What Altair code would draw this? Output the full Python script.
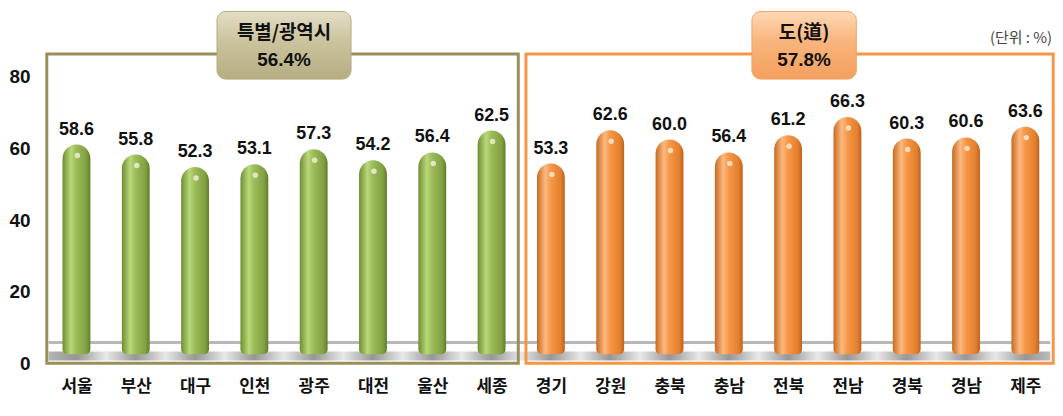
import altair as alt
import pandas as pd

# ---------------- data ----------------
regions = ["서울", "부산", "대구", "인천", "광주", "대전", "울산", "세종",
           "경기", "강원", "충북", "충남", "전북", "전남", "경북", "경남", "제주"]
values = [58.6, 55.8, 52.3, 53.1, 57.3, 54.2, 56.4, 62.5,
          53.3, 62.6, 60.0, 56.4, 61.2, 66.3, 60.3, 60.6, 63.6]
groups = ["특별/광역시"] * 8 + ["도(道)"] * 9
group_names = ["특별/광역시", "도(道)"]
group_rates = ["56.4%", "57.8%"]
y_ticks = [0, 20, 40, 60, 80]
unit_label = "(단위 : %)"

# ---------------- layout / style ----------------
W, H = 1016, 356
XS = alt.Scale(domain=[-0.55, 16.5], nice=False, zero=False, padding=0)
YS = alt.Scale(domain=[0, 99], nice=False)
KFONT = "Noto Sans CJK KR"
NFONT = "Liberation Sans"
OLIVE = "#9a8f5a"
ORANGE = "#f79646"
DEPTH = 2.5  # 3-D depth lift of the cylinders (in axis units)

n = len(regions)
df = pd.DataFrame({"idx": list(range(n)), "region": regions,
                   "value": values, "group": groups})
df["label"] = df["value"].map(lambda v: f"{v:.1f}")

first = [0, 8]
last = [7, 16]
boxes = pd.DataFrame({
    "group": group_names,
    "x0": [first[0] - 0.5, first[1] - 0.42],
    "x1": [last[0] + 0.45, last[1] + 0.47],
    "y0": [0, 0],
    "y1": [86.4, 86.4],
})
tags = pd.DataFrame({
    "group": group_names,
    "rate": group_rates,
    "xc": [3.5, 12.27],
    "hw": [1.13, 0.88],
})
tags["x0"] = tags["xc"] - tags["hw"]
tags["x1"] = tags["xc"] + tags["hw"]
tags["y0"] = 79.4
tags["y1"] = 98.3
tags["yn"] = 92.4
tags["yr"] = 84.6

floor_x0, floor_x1 = -0.47, 16.42
floor_df = pd.DataFrame({"x0": [floor_x0], "x1": [floor_x1], "y0": [0.8], "y1": [3.3], "yb": [5.8]})
unit_df = pd.DataFrame({"t": [unit_label], "x": [16.45], "y": [90.8]})

x_label_expr = "[" + ",".join(f"'{r}'" for r in regions) + "][datum.value]"


def lg(stops, x2=1, y2=0):
    return alt.LinearGradient(
        gradient="linear",
        stops=[alt.GradientStop(color=c, offset=o) for o, c in stops],
        x1=0, x2=x2, y1=0, y2=y2)


# floor gradient: dark under bars, light between
fstops = []
span = floor_x1 - floor_x0
fstops.append((0.0, "#b4b4b4"))
for i in range(n):
    o = (i - floor_x0) / span
    fstops.append((o, "#969696"))
    o2 = (i + 0.5 - floor_x0) / span
    if o2 < 1:
        fstops.append((o2, "#e8e8e8"))
fstops.append((1.0, "#bcbcbc"))

green_grad = lg([(0, "#6f8d33"), (0.3, "#b9d878"), (0.5, "#9bbb59"), (0.85, "#81a142"), (1, "#617d27")])
orange_grad = lg([(0, "#c86a22"), (0.3, "#fcb97f"), (0.5, "#f79646"), (0.85, "#e2802f"), (1, "#bf621b")])
tan_grad = lg([(0, "#e3dec6"), (0.45, "#cbc39d"), (1, "#b6ad82")], x2=0, y2=1)
peach_grad = lg([(0, "#fed8b5"), (0.45, "#f9b47c"), (1, "#f4a05e")], x2=0, y2=1)

xaxis = alt.Axis(values=list(range(n)), labelExpr=x_label_expr, labelFont=KFONT,
                 labelFontSize=17, labelFontWeight="bold", labelColor="#111",
                 ticks=False, domain=False, grid=False, labelPadding=15, title=None)
yaxis = alt.Axis(values=y_ticks, labelFont=NFONT, labelFontSize=19, labelFontWeight="bold",
                 labelColor="#111", ticks=False, domain=False, grid=False, labelPadding=14, title=None)


def X(f):
    return alt.X(f, scale=XS, axis=xaxis, title=None)


def Y(f):
    return alt.Y(f, scale=YS, axis=yaxis, title=None)


# ---------------- layers ----------------
back_line = alt.Chart(floor_df).mark_rule(color="#b8b8b8", strokeWidth=3).encode(
    x=X("x0:Q"), x2="x1:Q", y=Y("yb:Q"))

floor = alt.Chart(floor_df).mark_rect(fill=lg(fstops)).encode(
    x=X("x0:Q"), x2="x1:Q", y=Y("y0:Q"), y2="y1:Q")

outline = alt.Chart(boxes).mark_rect(filled=False, strokeWidth=3).encode(
    x=X("x0:Q"), x2="x1:Q", y=Y("y0:Q"), y2="y1:Q",
    stroke=alt.Stroke("group:N", scale=alt.Scale(domain=group_names, range=[OLIVE, ORANGE]), legend=None))

bar_common = dict(size=28, cornerRadiusTopLeft=14, cornerRadiusTopRight=14,
                  cornerRadiusBottomLeft=5, cornerRadiusBottomRight=5)

bars_base = alt.Chart(df).transform_calculate(
    top=f"datum.value + {DEPTH}", base=f"{DEPTH}")

bars_g = bars_base.transform_filter(alt.datum.group == group_names[0]).mark_bar(
    color=green_grad, **bar_common).encode(x=X("idx:Q"), y=Y("top:Q"), y2="base:Q")

bars_o = bars_base.transform_filter(alt.datum.group == group_names[1]).mark_bar(
    color=orange_grad, **bar_common).encode(x=X("idx:Q"), y=Y("top:Q"), y2="base:Q")

shine = alt.Chart(df).mark_point(filled=True, size=30, color="#fffbe8", opacity=0.7,
                                 yOffset=2, xOffset=1).encode(x=X("idx:Q"), y=Y("value:Q"))

vlabels = alt.Chart(df).mark_text(font=NFONT, fontSize=18, fontWeight="bold", color="#111",
                                  baseline="alphabetic", dy=-19).encode(
    x=X("idx:Q"), y=Y("value:Q"), text="label:N")

tag_l = alt.Chart(tags).transform_filter(alt.datum.group == group_names[0]).mark_rect(
    fill=tan_grad, stroke="#b4ab80", strokeWidth=1, cornerRadius=9).encode(
    x=X("x0:Q"), x2="x1:Q", y=Y("y0:Q"), y2="y1:Q")

tag_r = alt.Chart(tags).transform_filter(alt.datum.group == group_names[1]).mark_rect(
    fill=peach_grad, stroke="#f3a263", strokeWidth=1, cornerRadius=9).encode(
    x=X("x0:Q"), x2="x1:Q", y=Y("y0:Q"), y2="y1:Q")

tag_name = alt.Chart(tags).mark_text(font=KFONT, fontSize=19, fontWeight="bold", color="#111",
                                     baseline="middle").encode(
    x=X("xc:Q"), y=Y("yn:Q"), text="group:N")

tag_rate = alt.Chart(tags).mark_text(font=NFONT, fontSize=19, fontWeight="bold", color="#111",
                                     baseline="middle").encode(
    x=X("xc:Q"), y=Y("yr:Q"), text="rate:N")

unit = alt.Chart(unit_df).mark_text(font=KFONT, fontSize=15, color="#444",
                                    align="right", baseline="middle").encode(
    x=X("x:Q"), y=Y("y:Q"), text="t:N")

chart = alt.layer(
    back_line, floor, outline, bars_g, bars_o, shine, vlabels,
    tag_l, tag_r, tag_name, tag_rate, unit
).properties(
    width=W, height=H, background="white",
    padding={"left": 0, "top": 0, "right": 0, "bottom": 8}
).configure_view(stroke=None)

chart.save("out.html", embed_options={"renderer": "svg", "actions": False})
